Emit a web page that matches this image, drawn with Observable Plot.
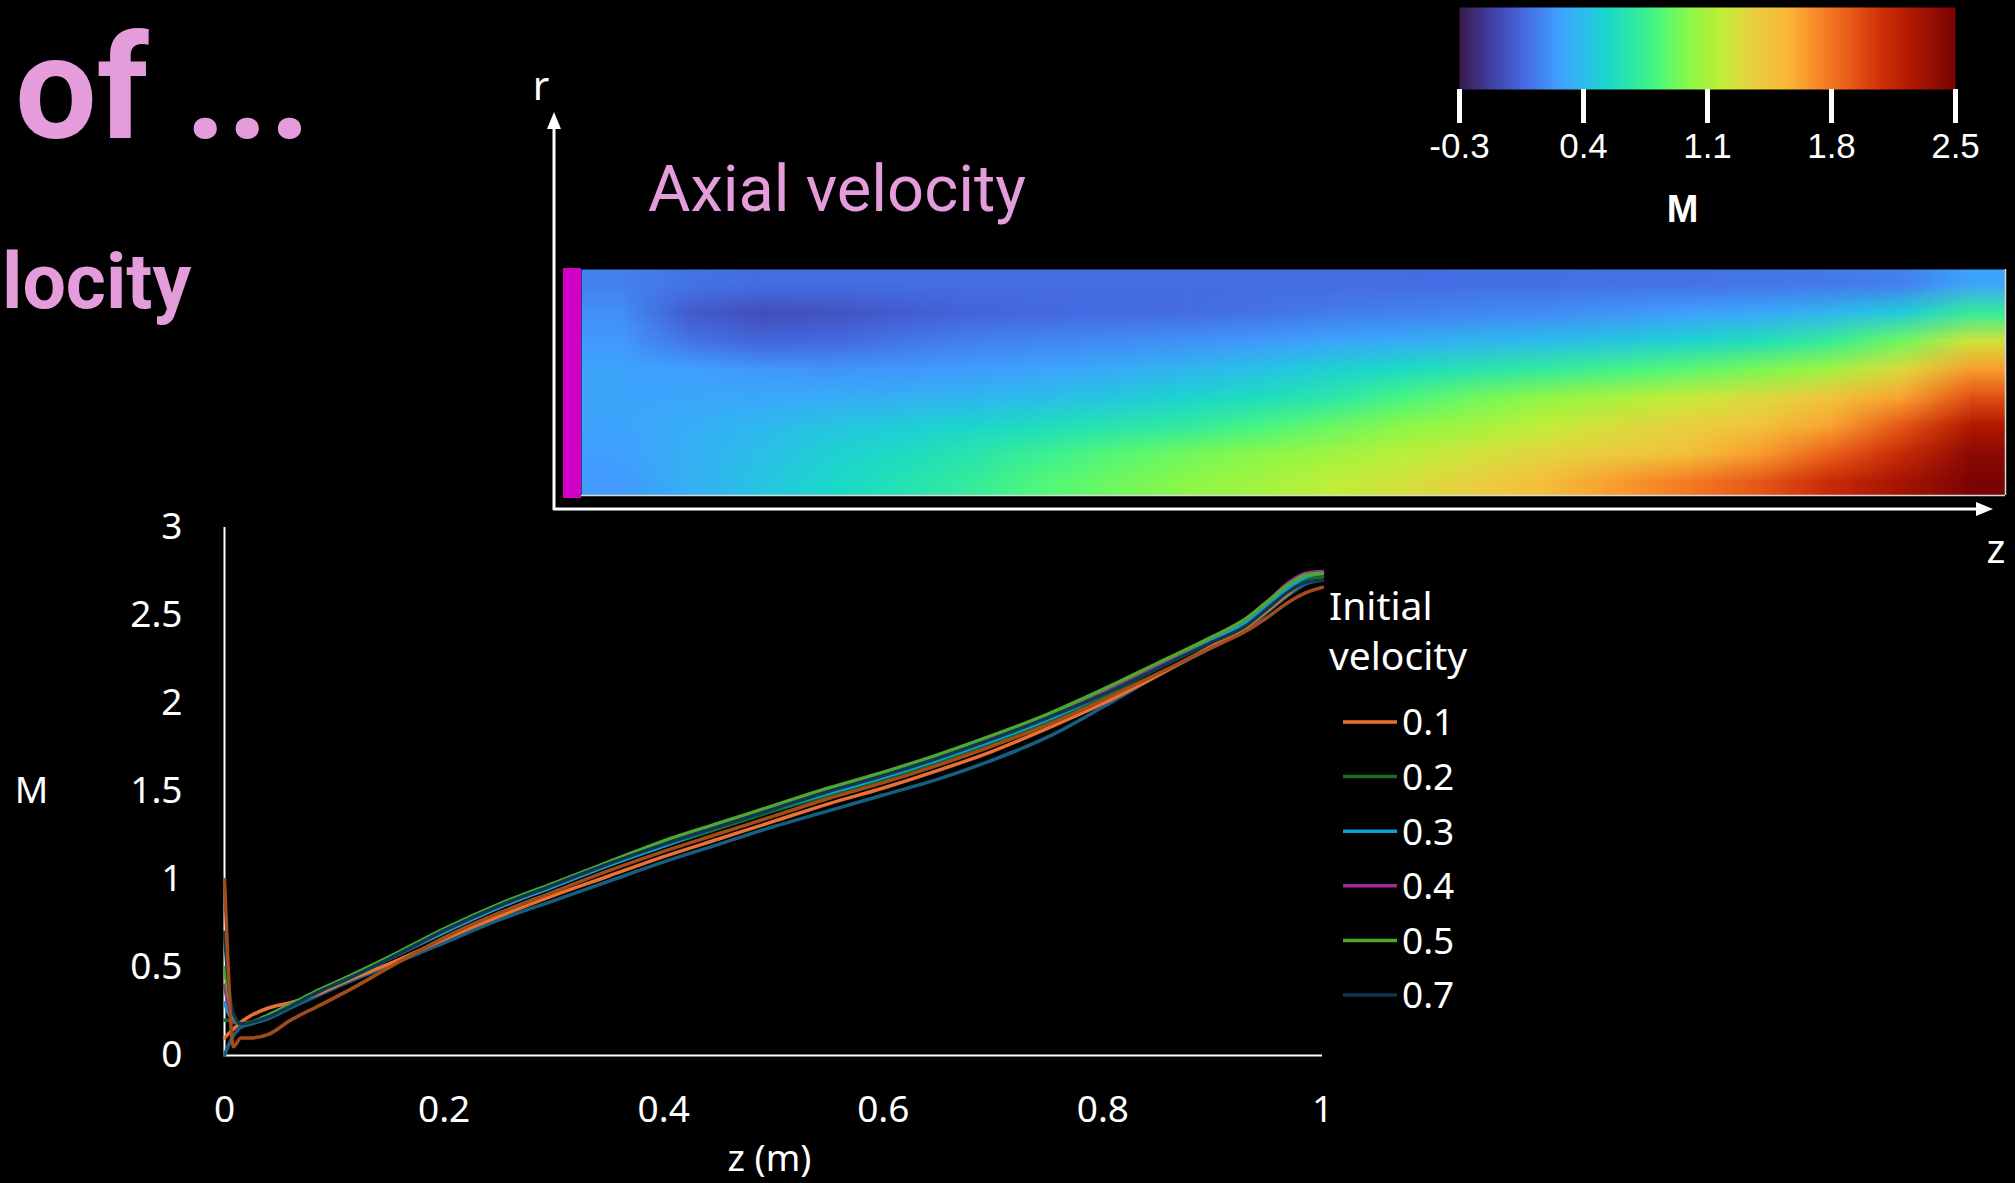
<!DOCTYPE html>
<html>
<head>
<meta charset="utf-8">
<script src="https://cdn.jsdelivr.net/npm/d3@7"></script>
<script src="https://cdn.jsdelivr.net/npm/@observablehq/plot@0.6"></script>
<style>
  html, body { margin: 0; padding: 0; background: #000; }
  #stage { position: relative; width: 2015px; height: 1183px; overflow: hidden; background: #000; }
  .layer { position: absolute; }
  #deco { position: absolute; left: 0; top: 0; pointer-events: none; }
</style>
</head>
<body>
<div id="stage"></div>
<script>
// ---------------- DATA ----------------
// axial positions z (m) of the sampled curve points
const Z = [0, 0.003, 0.008, 0.015, 0.025, 0.04, 0.06, 0.085, 0.11, 0.15, 0.2, 0.25, 0.3, 0.35, 0.4, 0.45, 0.5, 0.55, 0.6, 0.65, 0.7, 0.75, 0.8, 0.85, 0.9, 0.93, 0.95, 0.97, 0.985, 1.0];

// Mach number along z for each initial velocity
const m00 = [0.0, 0.05, 0.11, 0.16, 0.18, 0.21, 0.27, 0.34, 0.41, 0.51, 0.64, 0.77, 0.88, 0.99, 1.10, 1.20, 1.30, 1.39, 1.48, 1.57, 1.68, 1.81, 1.98, 2.16, 2.32, 2.42, 2.52, 2.62, 2.68, 2.70];
const m01 = [0.1, 0.12, 0.15, 0.19, 0.23, 0.27, 0.30, 0.35, 0.42, 0.52, 0.66, 0.79, 0.91, 1.02, 1.13, 1.23, 1.33, 1.43, 1.52, 1.62, 1.73, 1.86, 2.00, 2.16, 2.33, 2.43, 2.53, 2.63, 2.70, 2.72];
const m02 = [0.2, 0.2, 0.19, 0.18, 0.19, 0.22, 0.28, 0.36, 0.43, 0.55, 0.70, 0.84, 0.96, 1.08, 1.19, 1.29, 1.39, 1.48, 1.57, 1.67, 1.78, 1.90, 2.04, 2.20, 2.36, 2.45, 2.55, 2.65, 2.71, 2.72];
const m03 = [0.3, 0.25, 0.2, 0.18, 0.19, 0.22, 0.28, 0.36, 0.43, 0.55, 0.70, 0.84, 0.96, 1.08, 1.19, 1.30, 1.40, 1.49, 1.58, 1.68, 1.79, 1.91, 2.05, 2.21, 2.36, 2.46, 2.56, 2.66, 2.72, 2.74];
const m04 = [0.4, 0.3, 0.2, 0.18, 0.19, 0.23, 0.29, 0.36, 0.44, 0.55, 0.71, 0.85, 0.97, 1.09, 1.21, 1.31, 1.41, 1.51, 1.60, 1.70, 1.81, 1.93, 2.07, 2.22, 2.38, 2.48, 2.58, 2.69, 2.74, 2.75];
const m05 = [0.5, 0.36, 0.22, 0.18, 0.19, 0.23, 0.29, 0.37, 0.44, 0.56, 0.72, 0.86, 0.98, 1.10, 1.22, 1.32, 1.42, 1.52, 1.61, 1.71, 1.82, 1.94, 2.08, 2.23, 2.38, 2.48, 2.58, 2.68, 2.73, 2.74];
const m07 = [0.7, 0.45, 0.24, 0.18, 0.19, 0.22, 0.28, 0.36, 0.43, 0.55, 0.71, 0.85, 0.97, 1.09, 1.20, 1.30, 1.40, 1.50, 1.59, 1.69, 1.80, 1.92, 2.05, 2.20, 2.35, 2.44, 2.54, 2.64, 2.69, 2.70];
const m10 = [1.0, 0.55, 0.05, 0.1, 0.1, 0.12, 0.2, 0.28, 0.36, 0.5, 0.67, 0.81, 0.93, 1.05, 1.16, 1.26, 1.36, 1.46, 1.55, 1.65, 1.76, 1.88, 2.02, 2.17, 2.32, 2.41, 2.49, 2.58, 2.63, 2.66];

// series in drawing order (Excel order: later on top)
const seriesNames  = ["0", "0.1", "0.2", "0.3", "0.4", "0.5", "0.7", "1"];
const seriesValues = [m00, m01, m02, m03, m04, m05, m07, m10];
const seriesColors = ["#156082", "#E97132", "#196B24", "#0F9ED5", "#A02B93", "#4EA72E", "#0C394E", "#A24C1B"];
const legendNames  = ["0.1", "0.2", "0.3", "0.4", "0.5", "0.7"];

const xTicks = [0, 0.2, 0.4, 0.6, 0.8, 1];
const yTicks = [0, 0.5, 1, 1.5, 2, 2.5, 3];

// Axial velocity field (Mach), rows from wall (top) to axis (bottom), 20 columns along z
const heatRow0 = [0.15, 0.10, 0.08, 0.08, 0.08, 0.08, 0.08, 0.08, 0.08, 0.08, 0.08, 0.08, 0.09, 0.09, 0.10, 0.10, 0.11, 0.12, 0.15, 0.28];
const heatRow1 = [0.20, 0.00, -0.05, -0.03, 0.01, 0.04, 0.06, 0.07, 0.08, 0.10, 0.13, 0.15, 0.17, 0.19, 0.22, 0.26, 0.30, 0.37, 0.47, 0.72];
const heatRow2 = [0.24, 0.10, 0.04, 0.06, 0.11, 0.15, 0.17, 0.19, 0.21, 0.24, 0.28, 0.32, 0.36, 0.40, 0.45, 0.51, 0.59, 0.72, 0.92, 1.25];
const heatRow3 = [0.28, 0.26, 0.23, 0.22, 0.23, 0.25, 0.28, 0.32, 0.37, 0.43, 0.50, 0.56, 0.63, 0.70, 0.78, 0.86, 0.95, 1.07, 1.30, 1.65];
const heatRow4 = [0.28, 0.29, 0.30, 0.32, 0.34, 0.37, 0.41, 0.46, 0.52, 0.58, 0.66, 0.80, 0.92, 1.02, 1.10, 1.20, 1.30, 1.45, 1.62, 1.95];
const heatRow5 = [0.28, 0.33, 0.38, 0.44, 0.48, 0.53, 0.58, 0.64, 0.70, 0.80, 0.90, 1.00, 1.08, 1.18, 1.28, 1.36, 1.45, 1.62, 1.92, 2.25];
const heatRow6 = [0.26, 0.34, 0.42, 0.50, 0.57, 0.65, 0.75, 0.85, 0.93, 1.00, 1.07, 1.15, 1.25, 1.33, 1.40, 1.48, 1.65, 1.88, 2.12, 2.42];
const heatRow7 = [0.24, 0.34, 0.44, 0.54, 0.62, 0.72, 0.84, 0.92, 1.00, 1.08, 1.17, 1.26, 1.36, 1.50, 1.65, 1.78, 1.92, 2.12, 2.30, 2.50];
const heatRows = [heatRow0, heatRow1, heatRow2, heatRow3, heatRow4, heatRow5, heatRow6, heatRow7];

// colour bar
const cbarDomain = [-0.3, 2.5];
const cbarTicks = [-0.3, 0.4, 1.1, 1.8, 2.5];
const cmapT = [0, 0.06, 0.13, 0.2, 0.25, 0.3, 0.36, 0.4, 0.46, 0.53, 0.59, 0.66, 0.72, 0.79, 0.85, 0.91, 1];
const cmapColors = ["#3a1a4c", "#3f3d9e", "#4569e2", "#40a0ff", "#2cbcec", "#19d9c9", "#33eb9c", "#4af87f", "#88f848", "#c2ef37", "#e8d040", "#f9b838", "#f98a28", "#e85818", "#cf3008", "#b01800", "#7a0404"];

// ---------------- BUILD ----------------
const stage = document.getElementById("stage");
const PINK = "#E49CDB";
const cmapDomain = cmapT.map(t => cbarDomain[0] + t * (cbarDomain[1] - cbarDomain[0]));
const colorScale = {type: "linear", domain: cmapDomain, range: cmapColors, clamp: true};
const baseStyle = {background: "transparent", color: "white", overflow: "visible", maxWidth: "none"};

function place(node, left, top) {
  const div = document.createElement("div");
  div.className = "layer";
  div.style.left = left + "px";
  div.style.top = top + "px";
  div.appendChild(node);
  stage.appendChild(div);
}

// line chart
const rows = [];
seriesNames.forEach((s, k) => Z.forEach((z, i) => rows.push({z, M: seriesValues[k][i], s})));

const lineChart = Plot.plot({
  width: 1330, height: 713,
  marginLeft: 224, marginRight: 8, marginTop: 57, marginBottom: 128,
  style: {...baseStyle, fontFamily: "'Noto Sans', sans-serif"},
  x: {domain: [0, 1]},
  y: {domain: [0, 3]},
  color: {domain: seriesNames, range: seriesColors},
  marks: [
    Plot.ruleX([0], {stroke: "white", strokeWidth: 2}),
    Plot.ruleY([0], {stroke: "white", strokeWidth: 2}),
    Plot.axisY({ticks: yTicks, tickSize: 0, tickPadding: 42, fontSize: 37, label: null, tickFormat: d => String(d)}),
    Plot.axisX({ticks: xTicks, tickSize: 0, tickPadding: 40, fontSize: 37, label: null, tickFormat: d => String(d)}),
    Plot.line(rows, {x: "z", y: "M", z: "s", stroke: "s", strokeWidth: 3.5, curve: "monotone-x"}),
    Plot.text(["z (m)"], {text: d => d, frameAnchor: "bottom", dy: 104, dx: -4, fontSize: 37, fill: "white", lineAnchor: "middle"}),
    Plot.text(["M"], {text: d => d, frameAnchor: "left", dx: -193, fontSize: 37, fill: "white", textAnchor: "middle"})
  ]
});
place(lineChart, 0, 470);

// heat map
const heat = Plot.plot({
  width: 1424, height: 226, margin: 0,
  style: baseStyle,
  x: {domain: [0, 1], axis: null},
  y: {domain: [0, 1], axis: null},
  color: colorScale,
  marks: [
    Plot.raster(heatRows.flat(), {width: heatRows[0].length, height: heatRows.length, x1: 0, x2: 1, y1: 1, y2: 0, fill: d => d}),
    Plot.ruleY([0], {stroke: "#d8d8d8", strokeWidth: 1.5}),
    Plot.ruleX([1], {stroke: "#d8d8d8", strokeWidth: 1.5})
  ]
});
place(heat, 581, 269);

// colour bar
const cbar = Plot.plot({
  width: 615, height: 240,
  marginLeft: 59, marginRight: 60, marginTop: 7, marginBottom: 151,
  style: {...baseStyle, fontFamily: "'Liberation Sans', Arial, sans-serif"},
  x: {domain: cbarDomain},
  y: {domain: [0, 1], axis: null},
  color: colorScale,
  marks: [
    Plot.raster({x1: cbarDomain[0], x2: cbarDomain[1], y1: 0, y2: 1, fill: (x, y) => x, pixelSize: 1}),
    Plot.axisX({ticks: cbarTicks, tickSize: 34, strokeWidth: 5, tickPadding: 10, fontSize: 35, stroke: "white", fill: "white", label: null, tickFormat: d => d.toFixed(1)}),
    Plot.text(["M"], {text: d => d, frameAnchor: "bottom", dy: 120, dx: -25, fontSize: 38, fontWeight: "bold", fill: "white", lineAnchor: "middle"})
  ]
});
place(cbar, 1400, 0);

// decorations: titles, axes arrows, inlet bar, legend
const svg = d3.select(stage).append("svg").attr("id", "deco").attr("width", 2015).attr("height", 1183);
svg.append("text").attr("x", 15).attr("y", 138).attr("fill", PINK)
  .style("font", "700 145px Roboto, sans-serif").text("of ...");
svg.append("text").attr("x", 2).attr("y", 308).attr("fill", PINK)
  .style("font", "700 77px Roboto, sans-serif").text("locity");
svg.append("text").attr("x", 648).attr("y", 211).attr("fill", PINK)
  .style("font", "400 65px Roboto, sans-serif").text("Axial velocity");

// inlet bar
svg.append("rect").attr("x", 563).attr("y", 268).attr("width", 18).attr("height", 230).attr("fill", "#D200C4");

// r / z arrows
svg.append("line").attr("x1", 554).attr("y1", 510).attr("x2", 554).attr("y2", 126).attr("stroke", "white").attr("stroke-width", 3);
svg.append("path").attr("d", "M554,112 L547,129 L561,129 Z").attr("fill", "white");
svg.append("line").attr("x1", 553).attr("y1", 509).attr("x2", 1979).attr("y2", 509).attr("stroke", "white").attr("stroke-width", 3);
svg.append("path").attr("d", "M1993,509 L1976,502 L1976,516 Z").attr("fill", "white");
svg.append("text").attr("x", 541).attr("y", 100).attr("text-anchor", "middle").attr("fill", "white")
  .style("font", "400 40px 'Noto Sans', sans-serif").text("r");
svg.append("text").attr("x", 1996).attr("y", 563).attr("text-anchor", "middle").attr("fill", "white")
  .style("font", "400 40px 'Noto Sans', sans-serif").text("z");

// legend
const lg = svg.append("g").style("font", "400 39px 'Noto Sans', sans-serif").attr("fill", "white");
lg.append("text").attr("x", 1329).attr("y", 620).text("Initial");
lg.append("text").attr("x", 1329).attr("y", 670).text("velocity");
legendNames.forEach((name, i) => {
  const y = 722 + i * 54.6;
  const col = seriesColors[seriesNames.indexOf(name)];
  lg.append("line").attr("x1", 1343).attr("x2", 1397).attr("y1", y).attr("y2", y)
    .attr("stroke", col).attr("stroke-width", 3.5);
  lg.append("text").attr("x", 1402).attr("y", y).attr("dy", "0.36em")
    .style("font-size", "37px").text(name);
});
</script>
</body>
</html>
